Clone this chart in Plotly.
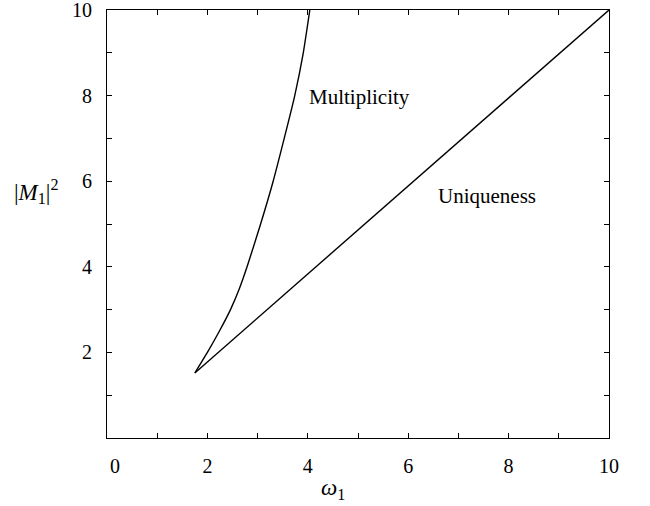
import plotly.graph_objects as go

# Multiplicity boundary (omega_1, |M_1|^2)
mult_w = [1.75, 2.00, 2.24, 2.46, 2.64, 2.79, 3.06, 3.31, 3.53, 3.74, 3.91, 4.04]
mult_m = [1.52, 2.00, 2.50, 3.00, 3.50, 4.00, 5.00, 6.00, 7.00, 8.00, 9.00, 10.0]
# Uniqueness boundary
uniq_w = [1.75, 10.0]
uniq_m = [1.52, 10.0]

tick_vals = list(range(0, 11))
x_tick_text = ["" if (v % 2 or v == 0) else str(v) for v in tick_vals]
y_tick_text = ["" if (v % 2 or v == 0) else str(v) + "\u2002" for v in tick_vals]

FONT = "Liberation Serif, Times New Roman, serif"

fig = go.Figure()
fig.add_trace(go.Scatter(x=mult_w, y=mult_m, mode="lines",
                         line=dict(color="black", width=1.4, shape="spline", smoothing=0.6),
                         showlegend=False, hoverinfo="skip"))
fig.add_trace(go.Scatter(x=uniq_w, y=uniq_m, mode="lines",
                         line=dict(color="black", width=1.4),
                         showlegend=False, hoverinfo="skip"))

axis_common = dict(range=[0, 10], showgrid=False, zeroline=False, showline=True,
                   linecolor="black", linewidth=1, mirror="ticks", ticks="inside",
                   ticklen=5, tickwidth=1, tickcolor="black", automargin=False,
                   tickvals=tick_vals, ticklabeloverflow="allow",
                   tickfont=dict(family=FONT, size=20, color="black"))
fig.update_xaxes(**axis_common, ticktext=x_tick_text, ticklabelstandoff=10)
fig.update_yaxes(**axis_common, ticktext=y_tick_text)

fig.add_annotation(x=3.99, y=7.97, xref="x", yref="y", text="Multiplicity",
                   showarrow=False, xanchor="left", yanchor="middle",
                   font=dict(family=FONT, size=21, color="black"))
fig.add_annotation(x=6.55, y=5.65, xref="x", yref="y", text="Uniqueness",
                   showarrow=False, xanchor="left", yanchor="middle",
                   font=dict(family=FONT, size=21, color="black"))
# origin label
fig.add_annotation(x=0.16, y=0, xref="x", yref="y", text="0", showarrow=False,
                   xanchor="center", yanchor="middle", yshift=-28,
                   font=dict(family=FONT, size=20, color="black"))
# axis titles
fig.add_annotation(x=4.5, y=0, xref="x", yref="paper", text="<i>ω</i><sub>1</sub>",
                   showarrow=False, xanchor="center", yanchor="middle", yshift=-51,
                   font=dict(family=FONT, size=23, color="black"))
fig.add_annotation(x=0, y=5.75, xref="paper", yref="y", text="|<i>M</i><sub>1</sub>|<sup>2</sup>",
                   showarrow=False, xanchor="right", yanchor="middle", xshift=-47,
                   font=dict(family=FONT, size=23, color="black"))

fig.update_layout(width=650, height=506, margin=dict(l=107, r=41, t=10, b=68),
                  plot_bgcolor="white", paper_bgcolor="white")

fig.write_html("out.html")
